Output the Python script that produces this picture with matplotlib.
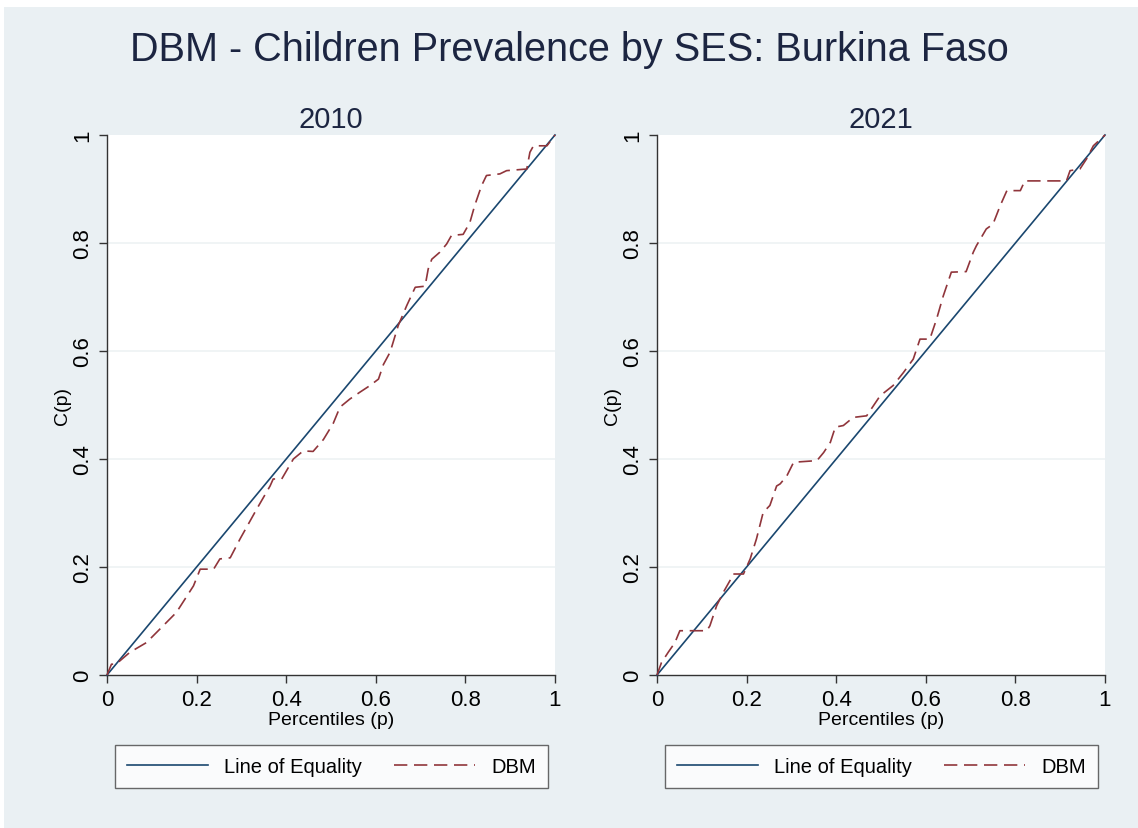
import matplotlib
matplotlib.use("Agg")
import matplotlib.pyplot as plt
from matplotlib.lines import Line2D
from matplotlib.patches import Rectangle

plt.rcParams['font.family'] = ['Liberation Sans', 'DejaVu Sans']

# DBM concentration curves
p_2010 = [0.0, 0.01, 0.02, 0.051, 0.088, 0.118, 0.155, 0.193, 0.208, 0.238, 0.252, 0.275,
          0.297, 0.334, 0.364, 0.371, 0.39, 0.416, 0.438, 0.46, 0.483, 0.505, 0.52, 0.542,
          0.565, 0.587, 0.606, 0.617, 0.632, 0.65, 0.669, 0.688, 0.71, 0.717, 0.725, 0.743,
          0.758, 0.769, 0.795, 0.81, 0.821, 0.836, 0.847, 0.877, 0.892, 0.937, 0.944, 0.952,
          0.982, 1.0]
c_2010 = [0.0, 0.02, 0.02, 0.042, 0.06, 0.085, 0.116, 0.165, 0.196, 0.196, 0.215, 0.217,
          0.252, 0.307, 0.35, 0.363, 0.363, 0.4, 0.415, 0.414, 0.436, 0.466, 0.496, 0.511,
          0.524, 0.536, 0.548, 0.575, 0.598, 0.647, 0.684, 0.718, 0.72, 0.752, 0.77, 0.783,
          0.798, 0.814, 0.816, 0.838, 0.87, 0.906, 0.925, 0.928, 0.934, 0.937, 0.968, 0.98,
          0.98, 1.0]

p_2021 = [0.0, 0.01, 0.025, 0.04, 0.051, 0.111, 0.118, 0.133, 0.148, 0.163, 0.17, 0.193,
          0.208, 0.222, 0.237, 0.252, 0.267, 0.275, 0.29, 0.305, 0.357, 0.372, 0.387, 0.398,
          0.416, 0.438, 0.468, 0.498, 0.527, 0.55, 0.572, 0.587, 0.609, 0.624, 0.639, 0.657,
          0.69, 0.706, 0.713, 0.735, 0.75, 0.766, 0.781, 0.811, 0.821, 0.914, 0.922, 0.944,
          0.959, 0.974, 1.0]
c_2021 = [0.0, 0.023, 0.042, 0.06, 0.082, 0.082, 0.091, 0.128, 0.153, 0.175, 0.187, 0.187,
          0.215, 0.252, 0.301, 0.314, 0.35, 0.354, 0.369, 0.394, 0.397, 0.412, 0.431, 0.459,
          0.462, 0.477, 0.48, 0.517, 0.536, 0.56, 0.585, 0.622, 0.622, 0.659, 0.702, 0.746,
          0.747, 0.783, 0.795, 0.826, 0.835, 0.869, 0.897, 0.897, 0.915, 0.915, 0.934, 0.937,
          0.956, 0.98, 1.0]

panels = [("2010", p_2010, c_2010), ("2021", p_2021, c_2021)]
ticks = [0, 0.2, 0.4, 0.6, 0.8, 1]
tick_labels = ["0", "0.2", "0.4", "0.6", "0.8", "1"]

navy = '#1a476f'
maroon = '#90353b'
bg = '#eaf0f3'
text_col = '#1c2541'

fig = plt.figure(figsize=(11.38, 8.29), dpi=100, facecolor='white')
fig.patches.append(Rectangle((4 / 1138, 0), 1, 1 - 8 / 829, transform=fig.transFigure,
                             facecolor=bg, edgecolor='none', zorder=-10))

fig.text(0.5, 1 - 50 / 829, "DBM - Children Prevalence by SES: Burkina Faso",
         ha='center', va='center', fontsize=28.5, color=text_col)

lefts = [107 / 1138, 657 / 1138]
for left, (year, p, c) in zip(lefts, panels):
    ax = fig.add_axes([left, (829 - 676) / 829, 448 / 1138, 540 / 829])
    ax.set_facecolor('white')
    ax.set_xlim(0, 1)
    ax.set_ylim(0, 1)

    ax.plot([0, 1], [0, 1], color=navy, lw=1.2, clip_on=False, zorder=3)
    ax.plot(p, c, color=maroon, lw=1.2, dashes=(8, 4), clip_on=False, zorder=4)

    for y in ticks[1:-1]:
        ax.axhline(y, color='#edf2f4', lw=1.2, zorder=1)

    for s in ['top', 'right']:
        ax.spines[s].set_visible(False)
    for s in ['left', 'bottom']:
        ax.spines[s].set_color('#333333')
        ax.spines[s].set_linewidth(1.0)

    ax.set_xticks(ticks)
    ax.set_xticklabels(tick_labels)
    ax.set_yticks(ticks)
    ax.set_yticklabels(tick_labels, rotation=90, va='center')
    ax.tick_params(axis='both', length=6, width=1.0, color='#333333', labelsize=16, pad=4)

    ax.set_title(year, fontsize=21, color=text_col, pad=6)
    ax.set_xlabel("Percentiles (p)", fontsize=14)
    ax.xaxis.set_label_coords(0.5, -0.066)
    ax.set_ylabel("C(p)", fontsize=14)
    ax.yaxis.set_label_coords(-0.08, 0.5)

    handles = [Line2D([], [], color=navy, lw=1.2),
               Line2D([], [], color=maroon, lw=1.2, dashes=(8, 4))]
    leg = ax.legend(handles, ["Line of Equality", "DBM"], loc='upper left',
                    bbox_to_anchor=(0.018, -0.204, 0.966, 0.074), mode='expand', ncol=2,
                    borderaxespad=0, fontsize=14.5, handlelength=4, frameon=True,
                    fancybox=False, borderpad=0.6)
    leg.get_frame().set_edgecolor('#444444')
    leg.get_frame().set_linewidth(1.0)

fig.savefig("out.png", dpi=100, facecolor=fig.get_facecolor())
